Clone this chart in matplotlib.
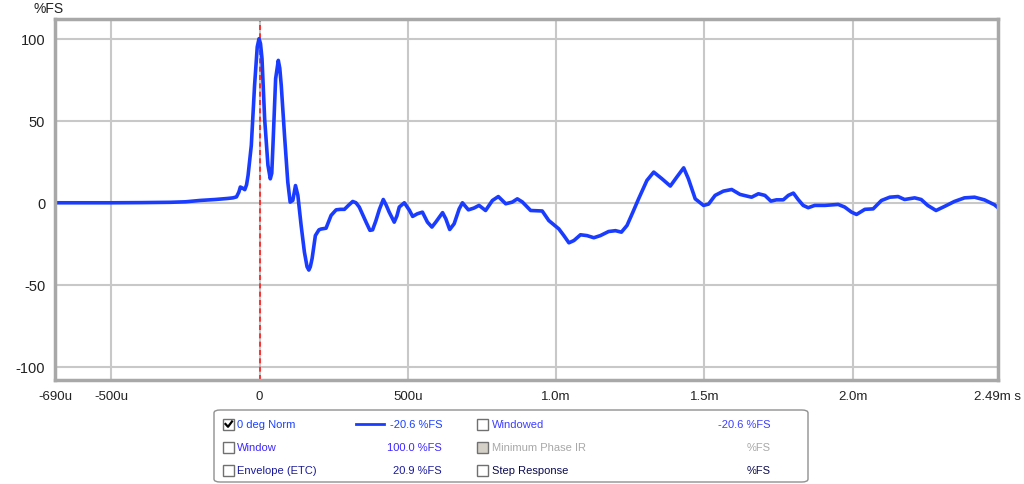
import matplotlib
matplotlib.use("Agg")
import matplotlib.pyplot as plt
from matplotlib.patches import FancyBboxPatch, Rectangle
from matplotlib.lines import Line2D

plt.rcParams['font.family'] = ['Liberation Sans', 'DejaVu Sans']

# impulse response, time in microseconds, value in %FS
t_us = [-690, -500, -400, -300, -250, -202, -150, -110, -90, -78, -70, -65, -58, -50,
        -44, -39, -28, -17, -8, -2, 3, 8, 17, 28, 36, 41, 45, 54, 63, 68, 73, 84, 95, 103,
        112, 121, 129, 140, 151, 160, 166, 171, 177, 188, 200, 207, 224, 241, 258, 272,
        286, 300, 314, 325, 336, 359, 372, 381, 392, 404, 417, 427, 437, 454, 463, 471,
        488, 505, 516, 532, 549, 566, 581, 594, 617, 628, 641, 656, 673, 684, 704, 723,
        740, 762, 785, 805, 830, 852, 869, 886, 914, 953, 975, 1009, 1026, 1043, 1060,
        1082, 1104, 1127, 1149, 1177, 1200, 1220, 1239, 1258, 1278, 1306, 1329, 1357,
        1385, 1407, 1430, 1446, 1469, 1497, 1514, 1536, 1564, 1592, 1620, 1659, 1682,
        1704, 1724, 1743, 1766, 1783, 1800, 1816, 1833, 1850, 1872, 1906, 1951, 1973,
        1996, 2013, 2041, 2069, 2097, 2125, 2153, 2175, 2209, 2231, 2253, 2281, 2310,
        2343, 2377, 2411, 2444, 2478, 2490]
v_fs = [0.0, 0.0, 0.1, 0.3, 0.6, 1.4, 2.0, 2.6, 3.0, 3.6, 6.5, 9.6, 9.0, 8.0,
        11.0, 16.6, 35.0, 71.5, 95.0, 100.0, 97.0, 88.0, 51.0, 23.0, 14.6, 18.0, 35.0,
        75.6, 86.8, 82.0, 71.5, 41.0, 12.6, 0.4, 1.5, 10.5, 4.5, -13.8, -30.0, -39.0,
        -41.0, -39.0, -34.0, -20.0, -16.5, -16.0, -15.5, -7.7, -4.3, -4.0, -4.0, -1.5,
        0.8, 0.0, -2.6, -11.8, -16.8, -16.5, -11.0, -4.0, 2.0, -1.5, -5.7, -11.8, -8.0,
        -2.6, 0.0, -4.5, -8.3, -6.7, -5.7, -11.8, -14.8, -11.8, -6.0, -9.8, -16.3,
        -12.8, -3.7, 0.0, -4.3, -3.2, -1.6, -4.7, 1.4, 3.8, -0.6, 0.4, 2.4, 0.5, -4.7,
        -5.0, -10.8, -15.9, -20.0, -24.4, -23.0, -19.5, -20.0, -21.3, -20.0, -17.5,
        -17.0, -17.9, -13.8, -6.0, 2.4, 13.6, 18.7, 14.6, 10.2, 15.7, 21.3, 14.6, 2.4,
        -1.6, -0.8, 4.5, 7.1, 8.1, 5.1, 3.4, 5.5, 4.5, 1.0, 1.8, 1.8, 4.5, 5.9, 2.0,
        -1.6, -3.0, -1.6, -1.6, -1.0, -2.6, -5.7, -7.1, -4.0, -3.7, 1.4, 3.4, 3.8, 2.0,
        3.0, 2.0, -1.6, -4.7, -2.2, 0.8, 3.0, 3.4, 1.8, -1.2, -3.0]

xticks = [-690, -500, 0, 500, 1000, 1500, 2000, 2490]
xlabels = ['-690u', '-500u', '0', '500u', '1.0m', '1.5m', '2.0m', '2.49m s']
xgrid = [-500, 0, 500, 1000, 1500, 2000]
yticks = [-100, -50, 0, 50, 100]

W, H = 1024, 485
fig = plt.figure(figsize=(W / 100, H / 100), dpi=100)
fig.patch.set_facecolor('white')


def fx(x):
    return x / W


def fy(y):
    return 1 - y / H


ax = fig.add_axes([fx(55), fy(381), fx(998) - fx(55), fy(20) - fy(381)])
ax.set_xlim(-690, 2490)
ax.set_ylim(-108, 112)
for g in xgrid:
    ax.axvline(g, color='#c8c8c8', lw=1.5, zorder=0)
for g in yticks:
    ax.axhline(g, color='#c8c8c8', lw=1.5, zorder=0)
ax.axvline(0, color='#ff1a1a', lw=1.2, ls=(0, (3, 2)), zorder=1)
ax.plot(t_us, v_fs, color='#1a3cff', lw=2.6, solid_joinstyle='round',
        solid_capstyle='round', zorder=2)

ax.set_xticks(xticks)
ax.set_xticklabels(xlabels, fontsize=9.5, color='#222222')
ax.set_yticks(yticks)
ax.set_yticklabels([str(v) for v in yticks], fontsize=10.5, color='#222222')
ax.tick_params(length=0, pad=7)
for s in ax.spines.values():
    s.set_color('#a8a8a8')
    s.set_linewidth(2.5)
fig.text(fx(33), fy(9), '%FS', fontsize=10, color='#222222', va='center', ha='left')

# legend panel
box = FancyBboxPatch((fx(214), fy(483)), fx(808) - fx(214), fy(411) - fy(483),
                     boxstyle='round,pad=0,rounding_size=0.006',
                     transform=fig.transFigure, facecolor='white',
                     edgecolor='#909090', lw=1.0)
fig.patches.append(box)

rows = [425, 448, 471]
left_items = [('0 deg Norm', '-20.6 %FS', '#1a40ff', True),
              ('Window', '100.0 %FS', '#3d28ff', False),
              ('Envelope (ETC)', '20.9 %FS', '#1a1a99', False)]
right_items = [('Windowed', '-20.6 %FS', '#3d3dff', False),
               ('Minimum Phase IR', '%FS', '#a8a8a8', False),
               ('Step Response', '%FS', '#0a0a50', False)]


def checkbox(x, y, checked, disabled=False):
    face = '#d4d0c8' if disabled else 'white'
    r = Rectangle((fx(x), fy(y + 5.5)), fx(11), 11 / H, transform=fig.transFigure,
                  facecolor=face, edgecolor='#707070', lw=1.0)
    fig.patches.append(r)
    if checked:
        fig.lines.append(Line2D([fx(x + 2.5), fx(x + 5), fx(x + 9)],
                                [fy(y), fy(y + 2.8), fy(y - 2.5)],
                                transform=fig.transFigure, color='black', lw=1.6))


for y, (name, val, col, chk) in zip(rows, left_items):
    checkbox(223, y, chk)
    fig.text(fx(237), fy(y), name, fontsize=8, color=col, va='center', ha='left')
    fig.text(fx(442), fy(y), val, fontsize=8, color=col, va='center', ha='right')
fig.lines.append(Line2D([fx(356), fx(384)], [fy(425), fy(425)],
                        transform=fig.transFigure, color='#1a3cff', lw=2))

for y, (name, val, col, chk) in zip(rows, right_items):
    checkbox(477, y, chk, disabled=(name == 'Minimum Phase IR'))
    fig.text(fx(492), fy(y), name, fontsize=8, color=col, va='center', ha='left')
    fig.text(fx(771), fy(y), val, fontsize=8, color=col, va='center', ha='right')

fig.savefig('out.png', dpi=100, facecolor='white')
